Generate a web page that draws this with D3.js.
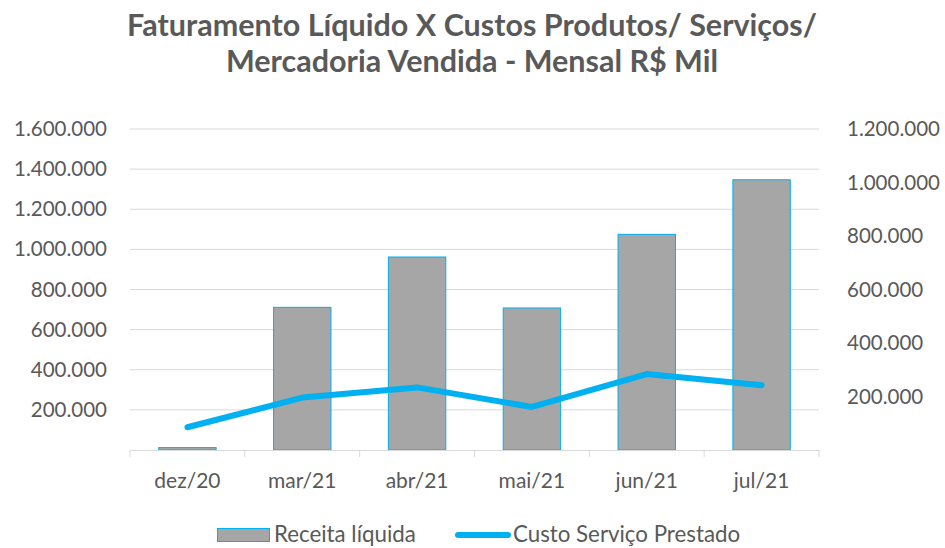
<!DOCTYPE html>
<html><head><meta charset="utf-8">
<script src="https://cdn.jsdelivr.net/npm/d3@7"></script>
<style>body{margin:0;background:#fff}svg{display:block}</style>
</head><body><svg id="c" width="945" height="548"></svg>
<script>
const categories = ["dez/20","mar/21","abr/21","mai/21","jun/21","jul/21"];
const receitaLiquida = [12000, 711000, 962000, 708000, 1075000, 1347000];
const custoServico = [85000, 196000, 234000, 161000, 284000, 242000];
const leftTicks = [200000,400000,600000,800000,1000000,1200000,1400000,1600000];
const rightTicks = [200000,400000,600000,800000,1000000,1200000];
const titleLines = ["Faturamento Líquido X Custos Produtos/ Serviços/","Mercadoria Vendida - Mensal R$ Mil"];
const seriesNames = ["Receita líquida","Custo Serviço Prestado"];

const svg = d3.select("#c");
const font = "Lato, 'Open Sans', sans-serif";
const txt = "#595959";
const L=130,R=819,T=129,B=450;
const x = d3.scaleBand().domain(categories).range([L,R]).paddingInner(0.5).paddingOuter(0.25);
const xb = d3.scaleBand().domain(categories).range([L,R]);
const yL = d3.scaleLinear().domain([0,1600000]).range([B,T]);
const yR = d3.scaleLinear().domain([0,1200000]).range([B,T]);
const fmt = v => d3.format(",")(v).replace(/,/g,".");

// title
svg.append("g").selectAll("text").data(titleLines).join("text")
  .attr("x",472).attr("y",(d,i)=>36+i*36).attr("text-anchor","middle")
  .attr("font-family",font).attr("font-weight","bold").attr("font-size",30.5).attr("fill",txt).text(d=>d);

// gridlines
svg.append("g").selectAll("line").data(leftTicks).join("line")
  .attr("x1",L).attr("x2",R).attr("y1",d=>yL(d)).attr("y2",d=>yL(d))
  .attr("stroke","#d9d9d9").attr("stroke-width",1);

// left axis
const gl = svg.append("g").attr("transform",`translate(${L},0)`)
  .call(d3.axisLeft(yL).tickValues(leftTicks).tickFormat(fmt).tickSize(0).tickPadding(23));
gl.select(".domain").remove();
gl.selectAll("text").attr("font-family",font).attr("font-size",20.5).attr("fill",txt);

// right axis
const gr = svg.append("g").attr("transform",`translate(${R},0)`)
  .call(d3.axisRight(yR).tickValues(rightTicks).tickFormat(fmt).tickSize(0).tickPadding(28));
gr.select(".domain").remove();
gr.selectAll("text").attr("font-family",font).attr("font-size",20.5).attr("fill",txt);

// bars
svg.append("g").selectAll("rect").data(receitaLiquida).join("rect")
  .attr("x",(d,i)=>x(categories[i])).attr("width",x.bandwidth())
  .attr("y",d=>yL(d)).attr("height",d=>B-yL(d))
  .attr("fill","#a6a6a6").attr("stroke","#00b0f0").attr("stroke-width",1);

// x axis
const gx = svg.append("g").attr("transform",`translate(0,${B})`)
  .call(d3.axisBottom(xb).tickSize(0).tickPadding(23));
gx.select(".domain").attr("stroke","#d9d9d9");
gx.selectAll("text").attr("font-family",font).attr("font-size",21).attr("fill",txt);
svg.append("g").selectAll("line").data(d3.range(categories.length+1)).join("line")
  .attr("x1",i=>L+i*xb.step()).attr("x2",i=>L+i*xb.step()).attr("y1",B).attr("y2",B+7)
  .attr("stroke","#d9d9d9");

// line
const line = d3.line().x((d,i)=>xb(categories[i])+xb.bandwidth()/2).y(d=>yR(d));
svg.append("path").datum(custoServico).attr("d",line).attr("fill","none")
  .attr("stroke","#00b0f0").attr("stroke-width",6).attr("stroke-linecap","round").attr("stroke-linejoin","round");

// legend
const lg = svg.append("g");
lg.append("rect").attr("x",217.5).attr("y",528.5).attr("width",52).attr("height",13)
  .attr("fill","#a6a6a6").attr("stroke","#00b0f0");
lg.append("text").attr("x",274).attr("y",542).attr("font-family",font).attr("font-size",22.3).attr("fill",txt).text(seriesNames[0]);
lg.append("line").attr("x1",458).attr("x2",508).attr("y1",535).attr("y2",535)
  .attr("stroke","#00b0f0").attr("stroke-width",6).attr("stroke-linecap","round");
lg.append("text").attr("x",513).attr("y",542).attr("font-family",font).attr("font-size",22.3).attr("fill",txt).text(seriesNames[1]);
</script></body></html>
